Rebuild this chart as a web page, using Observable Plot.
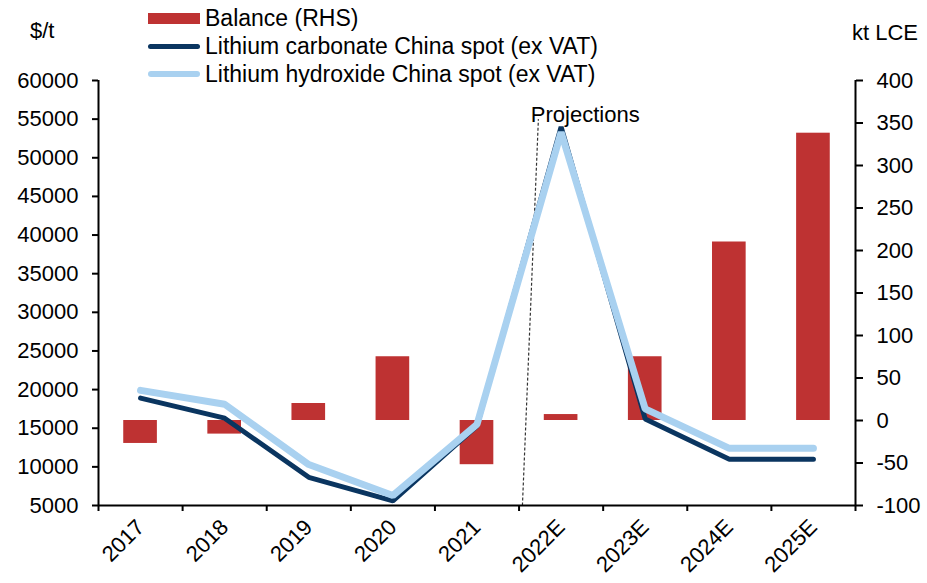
<!DOCTYPE html>
<html>
<head>
<meta charset="utf-8">
<script src="https://cdn.jsdelivr.net/npm/d3@7"></script>
<script src="https://cdn.jsdelivr.net/npm/@observablehq/plot@0.6"></script>
<style>
  body { margin: 0; background: #fff; font-family: "Liberation Sans", Arial, sans-serif; }
  #wrap { position: relative; width: 927px; height: 583px; }
  .unit { position: absolute; font-size: 22px; color: #000; line-height: 1; }
  #legend { position: absolute; left: 148px; top: 4px; font-size: 23px; color: #000; }
  .row { display: flex; align-items: center; height: 28px; }
  .sw { width: 52px; margin-right: 5px; display: flex; align-items: center; justify-content: center; }
</style>
</head>
<body>
<div id="wrap">
  <div class="unit" style="left:30px; top:20px;">$/t</div>
  <div class="unit" style="left:852px; top:22px;">kt LCE</div>
  <div id="legend"></div>
</div>
<script>
const categories = ["2017","2018","2019","2020","2021","2022E","2023E","2024E","2025E"];
const balance = [-27, -16, 20, 75, -52, 7, 75, 210, 338];           // kt LCE (RHS)
const carbonate = [18900, 16300, 8650, 5600, 15300, 54000, 16200, 11000, 11000]; // $/t
const hydroxide = [19900, 18100, 10300, 6300, 15500, 53300, 17500, 12400, 12400]; // $/t
const leftTicks = [5000,10000,15000,20000,25000,30000,35000,40000,45000,50000,55000,60000];
const rightTicks = [-100,-50,0,50,100,150,200,250,300,350,400];
const projection = {x1: 4.54, y1: 5000, x2: 4.73, y2: 55000, label: "Projections", lx: 4.64, ly: 55600};

const seriesNames = ["Balance (RHS)", "Lithium carbonate China spot (ex VAT)", "Lithium hydroxide China spot (ex VAT)"];
const colors = ["#BE3232", "#0A3560", "#A9D1F0"];

// map right-axis values (-100..400) onto left scale (5000..60000)
const toLeft = v => 5000 + (v + 100) * 110;
const fromLeft = y => Math.round((y - 5000) / 110 - 100);

const bars = balance.map((v, i) => ({i, v}));
const carb = carbonate.map((v, i) => ({i, v}));
const hyd = hydroxide.map((v, i) => ({i, v}));
const idx = categories.map((c, i) => i);
const bounds = d3.range(-0.5, categories.length, 1);

const font = "Liberation Sans, Arial, sans-serif";

const chart = Plot.plot({
  width: 927,
  height: 583,
  marginLeft: 98,
  marginRight: 72,
  marginTop: 80,
  marginBottom: 78,
  style: {fontFamily: font, fontSize: "22px", color: "#000", background: "#fff"},
  x: {type: "linear", domain: [-0.5, categories.length - 0.5]},
  y: {domain: [5000, 60000]},
  marks: [
    Plot.rectY(bars, {x1: d => d.i - 0.2, x2: d => d.i + 0.2, y1: toLeft(0), y2: d => toLeft(d.v), fill: colors[0]}),
    Plot.link([projection], {x1: "x1", y1: "y1", x2: "x2", y2: "y2", stroke: "#333", strokeWidth: 1.2, strokeDasharray: "3,2"}),
    Plot.line(carb, {x: "i", y: "v", stroke: colors[1], strokeWidth: 5, strokeLinejoin: "miter", strokeLinecap: "round"}),
    Plot.line(hyd, {x: "i", y: "v", stroke: colors[2], strokeWidth: 7, strokeLinejoin: "miter", strokeLinecap: "round"}),
    Plot.text([projection], {x: "lx", y: "ly", text: "label", textAnchor: "start", fontSize: 22, fill: "#000"}),
    Plot.ruleY([5000], {stroke: "#000", strokeWidth: 2}),
    Plot.ruleX([-0.5, categories.length - 0.5], {stroke: "#000", strokeWidth: 2}),
    Plot.axisY({anchor: "left", ticks: leftTicks, tickSize: 6, tickPadding: 14, tickFormat: d3.format("d"), label: null, strokeWidth: 2, fontSize: 22}),
    Plot.axisY({anchor: "right", ticks: rightTicks.map(toLeft), tickSize: 7, tickPadding: 14, tickFormat: fromLeft, label: null, strokeWidth: 2, fontSize: 22}),
    Plot.axisX({ticks: bounds, tickSize: 6, tickFormat: () => "", label: null, strokeWidth: 2}),
    Plot.axisX({ticks: idx, tickSize: 0, tickPadding: 18, tickRotate: -45, tickFormat: i => categories[i], label: null, fontSize: 22})
  ]
});
document.getElementById("wrap").prepend(chart);
chart.style.position = "absolute";
chart.style.left = "0px";
chart.style.top = "0px";

// legend
const legend = document.getElementById("legend");
seriesNames.forEach((name, k) => {
  const row = document.createElement("div");
  row.className = "row";
  const sw = document.createElement("div");
  sw.className = "sw";
  const bar = document.createElement("div");
  if (k === 0) { bar.style.cssText = `width:52px;height:11px;background:${colors[0]}`; }
  else { bar.style.cssText = `width:52px;height:${k === 1 ? 5 : 6}px;border-radius:3px;background:${colors[k]}`; }
  sw.appendChild(bar);
  const t = document.createElement("span");
  t.textContent = name;
  row.appendChild(sw);
  row.appendChild(t);
  legend.appendChild(row);
});
</script>
</body>
</html>
